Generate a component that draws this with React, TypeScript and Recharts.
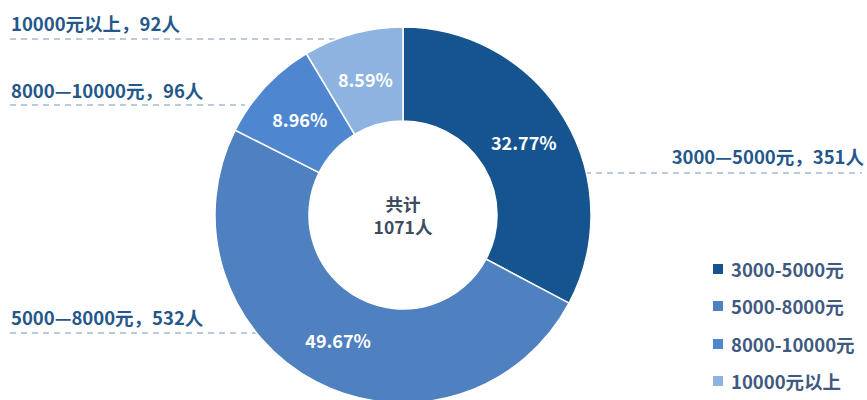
import React from "react";
import { PieChart, Pie, Cell, Legend, Label } from "recharts";

const categories = ["3000-5000元", "5000-8000元", "8000-10000元", "10000元以上"];
const counts = [351, 532, 96, 92];
const percents = ["32.77%", "49.67%", "8.96%", "8.59%"];
const calloutLabels = ["3000—5000元，351人", "5000—8000元，532人", "8000—10000元，96人", "10000元以上，92人"];
const colors = ["#15548f", "#4f80bf", "#4e87d0", "#8db3e1"];
const totalLabel = ["共计", "1071人"];

const data = categories.map((name, i) => ({ name, value: counts[i], pct: percents[i] }));

const FONT = '"Noto Sans CJK SC", "Noto Sans", sans-serif';
const W = 867;
const H = 400;

const RAD = Math.PI / 180;

const renderPct = (props: any) => {
  const { cx, cy, midAngle, innerRadius, outerRadius, index } = props;
  const r = (innerRadius + outerRadius) / 2;
  const x = cx + r * Math.cos(-midAngle * RAD);
  const y = cy + r * Math.sin(-midAngle * RAD);
  return (
    <text x={x} y={y} fill="#ffffff" textAnchor="middle" dominantBaseline="central"
      fontSize={18} fontWeight={700} fontFamily={FONT}>
      {data[index].pct}
    </text>
  );
};

const callouts = [
  { text: calloutLabels[3], tx: 11, ty: 23, anchor: "start", x1: 10, x2: 345, ly: 39 },
  { text: calloutLabels[2], tx: 11, ty: 90, anchor: "start", x1: 10, x2: 245, ly: 105 },
  { text: calloutLabels[0], tx: 864, ty: 156, anchor: "end", x1: 585, x2: 862, ly: 173 },
  { text: calloutLabels[1], tx: 11, ty: 317, anchor: "start", x1: 10, x2: 260, ly: 333 },
];

const renderLegend = () => (
  <div style={{ fontFamily: FONT }}>
    {data.map((d, i) => (
      <div key={d.name} style={{ display: "flex", alignItems: "center", height: 37.5 }}>
        <span style={{ width: 10, height: 10, background: colors[i], display: "inline-block", marginRight: 8 }} />
        <span style={{ fontSize: 18.5, fontWeight: 700, color: "#3f5a80" }}>{d.name}</span>
      </div>
    ))}
  </div>
);

export default function App() {
  return (
    <div style={{ position: "absolute", left: 0, top: 0, width: W, height: H, background: "#fff", overflow: "hidden" }}>
      <svg width={W} height={H} style={{ position: "absolute", left: 0, top: 0 }}>
        {callouts.map((c, i) => (
          <g key={i}>
            <line x1={c.x1} x2={c.x2} y1={c.ly} y2={c.ly} stroke="#a7b9cc" strokeWidth={1.5} strokeDasharray="6 5" />
            <text x={c.tx} y={c.ty} textAnchor={c.anchor as any} dominantBaseline="central"
              fontSize={18.5} fontWeight={700} fill="#24578a" fontFamily={FONT}>
              {c.text}
            </text>
          </g>
        ))}
      </svg>
      <div style={{ position: "absolute", left: 0, top: 0 }}>
        <PieChart width={W} height={H} margin={{ top: 0, right: 0, bottom: 0, left: 0 }}>
          <Pie
            data={data}
            dataKey="value"
            nameKey="name"
            cx={403}
            cy={215}
            innerRadius={94}
            outerRadius={188}
            startAngle={90}
            endAngle={-270}
            stroke="#ffffff"
            strokeWidth={1.5}
            label={renderPct}
            labelLine={false}
            isAnimationActive={false}
          >
            {data.map((d, i) => (
              <Cell key={d.name} fill={colors[i]} />
            ))}
            <Label
              position="center"
              content={(p: any) => {
                const vb = p.viewBox || {};
                const cx = vb.cx ?? 403;
                const cy = vb.cy ?? 215;
                return (
                  <text x={cx} textAnchor="middle" fontFamily={FONT} fontSize={17.5} fontWeight={700} fill="#3d4b5f">
                    <tspan x={cx} y={cy - 12} dominantBaseline="central">{totalLabel[0]}</tspan>
                    <tspan x={cx} y={cy + 11} dominantBaseline="central">{totalLabel[1]}</tspan>
                  </text>
                );
              }}
            />
          </Pie>
          <Legend
            layout="vertical"
            content={renderLegend}
            wrapperStyle={{ position: "absolute", left: 713, top: 250, width: 160 }}
          />
        </PieChart>
      </div>
    </div>
  );
}
